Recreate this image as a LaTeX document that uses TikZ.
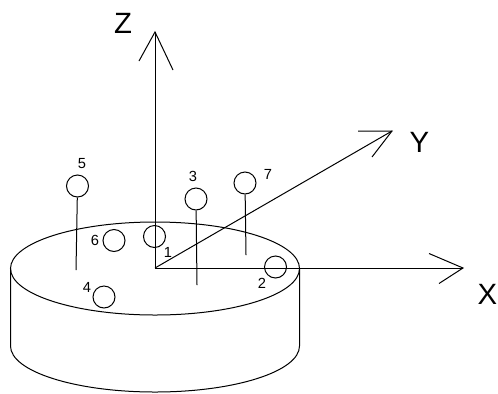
\documentclass[tikz,border=0pt]{standalone}
\usepackage{fontspec}
\setmainfont{Liberation Sans}
\tikzset{
 px/.style={x=0.75pt,y=-0.75pt},
 ln/.style={draw=black,line width=0.75pt},
 ball/.style={circle,draw=black,line width=0.75pt,minimum size=16.5pt,inner sep=0pt},
 axlab/.style={font=\fontsize{22pt}{24pt}\selectfont,inner sep=0pt},
 numlab/.style={font=\fontsize{11pt}{12pt}\selectfont,inner sep=0pt}
}
\begin{document}
\begin{tikzpicture}[px]
\useasboundingbox (0,0) rectangle (498,393);
% cylinder
\coordinate (c) at (155,268.5);
\node[inner sep=0pt] (O) at (155,268) {};
\draw[ln] (c) ellipse [x radius=144.5,y radius=46.5];
\draw[ln] (10.5,268.5) -- (10.5,346) arc [start angle=180,end angle=0,x radius=144.5,y radius=46] -- (299.5,268.5);
% axes
\coordinate (Zt) at (155,32);
\coordinate (Yt) at (392,131);
\coordinate (Xt) at (463,268);
\draw[ln] (O.center) -- (Zt);
\draw[ln] (139,61) -- (Zt) -- (173,70);
\draw[ln] (O.center) -- (Yt);
\draw[ln] (358,131) -- (Yt) -- (372,157);
\draw[ln] (O.center) -- (Xt);
\draw[ln] (429,253.5) -- (Xt) -- (439,283.5);
\node[axlab] (lz) at (123,23) {Z};
\node[axlab] (ly) at (419.5,142) {Y};
\node[axlab] (lx) at (487.5,294) {X};
% balls
\node[ball] (b1) at (154.5,236.5) {};
\node[ball] (b2) at (275.5,267) {};
\node[ball] (b3) at (196,199) {};
\node[ball] (b4) at (104,297) {};
\node[ball] (b5) at (77.5,186) {};
\node[ball] (b6) at (114,240.5) {};
\node[ball] (b7) at (245,183) {};
\coordinate (s3) at (197,285);
\coordinate (s5) at (76,270);
\coordinate (s7) at (246,255);
\draw[ln] (b3) -- (s3);
\draw[ln] (b5) -- (s5);
\draw[ln] (b7) -- (s7);
\node[numlab] (n1) at (168,252) {1};
\node[numlab] (n2) at (262,283) {2};
\node[numlab] (n3) at (193,176) {3};
\node[numlab] (n4) at (87,287) {4};
\node[numlab] (n5) at (82,164) {5};
\node[numlab] (n6) at (95,240) {6};
\node[numlab] (n7) at (268,174) {7};
\end{tikzpicture}
\end{document}
